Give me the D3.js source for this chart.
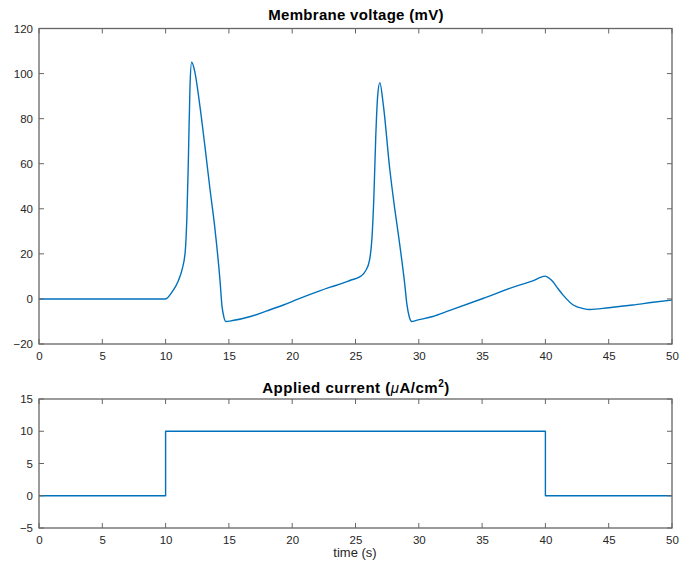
<!DOCTYPE html>
<html>
<head>
<meta charset="utf-8">
<script src="https://cdn.jsdelivr.net/npm/d3@7"></script>
<style>
html,body{margin:0;padding:0;background:#fff;}
svg{display:block;font-family:"Liberation Sans",Arial,Helvetica,sans-serif;}
</style>
</head>
<body>
<svg id="chart" width="683" height="563"></svg>
<script>
// ---- data ----
const voltTime = [0, 10, 10.5, 11, 11.3, 11.55, 11.68, 11.8, 11.93, 12.06, 12.3, 12.7, 13.1, 13.5, 13.9, 14.3, 14.45, 14.6, 14.75, 15.3, 16.7, 18, 19.3, 20.5, 21.9, 23, 24, 24.6, 25.4, 25.8, 26.1, 26.3, 26.45, 26.6, 26.75, 26.92, 27.2, 27.7, 28.1, 28.4, 28.9, 29.05, 29.25, 29.45, 29.8, 31.1, 32.4, 35.06, 37.7, 39.0, 39.98, 40.3, 40.6, 41.0, 41.4, 42.2, 43.0, 43.5, 45, 46.9, 48.5, 50];
const voltValues = [0, 0, 3, 8, 13, 21, 36, 62, 95, 105, 101, 86, 68, 49, 31, 8, -3, -8, -10, -9.6, -7.8, -5.3, -2.7, 0.0, 3.0, 5.2, 7, 8.3, 10, 12.5, 17, 27, 45, 72, 90, 96, 86, 58, 40, 28, 6, -2, -8, -10, -9.5, -7.8, -5.2, 0.2, 5.7, 8, 10.1, 9.2, 7.6, 4.5, 1.7, -2.7, -4.3, -4.7, -3.9, -2.7, -1.5, -0.5];
const currentTime = [0, 10, 10, 40, 40, 50];
const currentValues = [0, 0, 10, 10, 0, 0];
const xTicks = [0, 5, 10, 15, 20, 25, 30, 35, 40, 45, 50];
const voltTicks = [-20, 0, 20, 40, 60, 80, 100, 120];
const currentTicks = [-5, 0, 5, 10, 15];

// ---- layout ----
const svg = d3.select("#chart");
const left = 39, right = 672;
const axisColor = "#666666", textColor = "#262626", lineColor = "#0072BD";

function panel(top, bottom, yDomain, yTicks, xs, ys, curve) {
  const x = d3.scaleLinear().domain([0, 50]).range([left, right]);
  const y = d3.scaleLinear().domain(yDomain).range([bottom, top]);
  const g = svg.append("g");
  const clipId = "clip" + Math.round(top);
  svg.append("clipPath").attr("id", clipId).append("rect")
    .attr("x", left).attr("y", top).attr("width", right - left).attr("height", bottom - top);
  const pts = xs.map((t, i) => [t, ys[i]]);
  g.append("path").datum(pts)
    .attr("clip-path", `url(#${clipId})`)
    .attr("fill", "none").attr("stroke", lineColor).attr("stroke-width", 1.4)
    .attr("stroke-linejoin", "round")
    .attr("d", d3.line().x(d => x(d[0])).y(d => y(d[1])).curve(curve));

  const tk = 5;
  const gb = g.append("g").attr("transform", `translate(0,${bottom})`).call(d3.axisBottom(x).tickValues(xTicks).tickSize(0).tickPadding(8));
  const gl = g.append("g").attr("transform", `translate(${left},0)`).call(d3.axisLeft(y).tickValues(yTicks).tickSize(0).tickPadding(6));
  [gb, gl].forEach(a => {
    a.select(".domain").remove();
    a.selectAll("text").attr("fill", textColor).style("font-size", "11.5px").style("font-family", '"Liberation Sans",Arial,sans-serif');
  });
  gb.selectAll("text").attr("dy", "0.71em");
  // inward ticks on all four sides
  const tg = g.append("g").attr("stroke", axisColor).attr("stroke-width", 1);
  tg.selectAll("line.xb").data(xTicks).join("line").attr("class", "xb")
    .attr("x1", d => x(d)).attr("x2", d => x(d)).attr("y1", bottom).attr("y2", bottom - tk);
  tg.selectAll("line.xt").data(xTicks).join("line").attr("class", "xt")
    .attr("x1", d => x(d)).attr("x2", d => x(d)).attr("y1", top).attr("y2", top + tk);
  tg.selectAll("line.yl").data(yTicks).join("line").attr("class", "yl")
    .attr("x1", left).attr("x2", left + tk).attr("y1", d => y(d)).attr("y2", d => y(d));
  tg.selectAll("line.yr").data(yTicks).join("line").attr("class", "yr")
    .attr("x1", right).attr("x2", right - tk).attr("y1", d => y(d)).attr("y2", d => y(d));
  g.append("rect").attr("x", left).attr("y", top).attr("width", right - left).attr("height", bottom - top)
    .attr("fill", "none").attr("stroke", axisColor).attr("stroke-width", 1.3);
  return {x, y};
}

panel(28.5, 344, [-20, 120], voltTicks, voltTime, voltValues, d3.curveMonotoneX);
panel(399, 528, [-5, 15], currentTicks, currentTime, currentValues, d3.curveLinear);

// titles
svg.append("text").attr("x", 356).attr("y", 20).attr("text-anchor", "middle")
  .attr("fill", "#000").style("font-weight", "bold").style("font-size", "15px").style("letter-spacing", "0.3px")
  .text("Membrane voltage (mV)");
const t2 = svg.append("text").attr("x", 356).attr("y", 393).attr("text-anchor", "middle")
  .attr("fill", "#000").style("font-weight", "bold").style("font-size", "15px").style("letter-spacing", "0.5px");
t2.append("tspan").text("Applied current (");
t2.append("tspan").style("font-style", "italic").style("font-weight", "normal").text("\u03BC");
t2.append("tspan").text("A/cm");
t2.append("tspan").attr("dy", -6).style("font-size", "10px").text("2");
t2.append("tspan").attr("dy", 6).text(")");
svg.append("text").attr("x", 355).attr("y", 557).attr("text-anchor", "middle")
  .attr("fill", textColor).style("font-size", "13px").text("time (s)");
</script>
</body>
</html>
